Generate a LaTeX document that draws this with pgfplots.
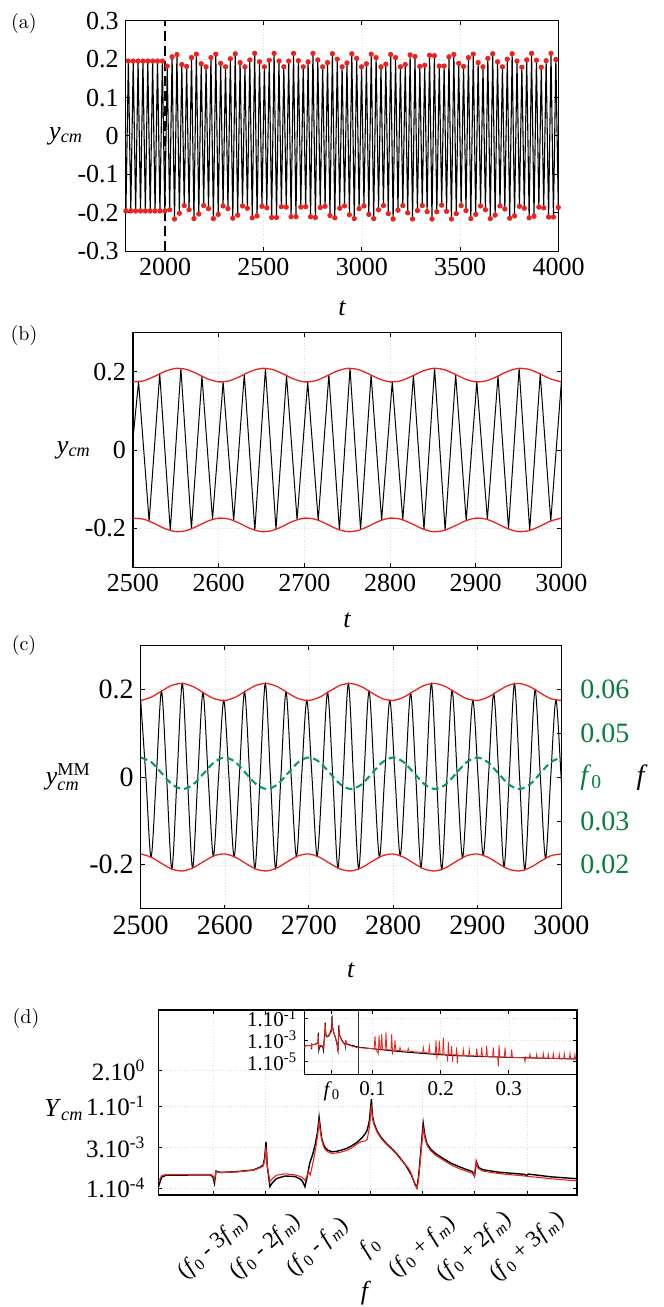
\documentclass[border=0pt]{standalone}
\usepackage{amsmath}
\usepackage{fontspec}
\usepackage{pgfplots}
\usepackage{pgfplotstable}
\pgfplotsset{compat=1.18}
\newfontfamily\tm{Liberation Serif}
\definecolor{mred}{RGB}{235,35,30}
\definecolor{fgreen}{RGB}{0,150,110}
\definecolor{lgreen}{RGB}{10,125,65}

\pgfplotsset{
  panel/.style={scale only axis, anchor=north west,
    axis line style={line width=0.6pt},
    grid=major, grid style={densely dotted, gray!28, line width=0.3pt},
    major tick length=2pt, tick style={black, line width=0.5pt},
    tick label style={font=\tm\fontsize{13}{15}\selectfont},
    label style={font=\tm\fontsize{13}{15}\selectfont},
    /pgf/number format/assume math mode=true,
    /pgf/number format/1000 sep={}, scaled ticks=false},
  ylab/.style={ylabel style={rotate=-90, at={(axis description cs:#1,0.5)}, anchor=center}},
  xlab/.style={xlabel style={at={(axis description cs:0.5,#1)}, anchor=center}}
}

% (a) peaks and troughs of y_cm, 1800 < t < 4000
\pgfplotstableread{
t y
1800.65 -0.195
1813.0 0.195
1825.35 -0.195
1837.7 0.195
1850.05 -0.195
1862.4 0.195
1874.75 -0.195
1887.1 0.195
1899.45 -0.195
1911.8 0.195
1924.15 -0.195
1936.5 0.195
1948.85 -0.195
1961.2 0.195
1973.55 -0.195
1985.9 0.195
1998.25 -0.195
2010.6 0.182
2022.95 -0.192
2035.3 0.206
2047.65 -0.216
2060.0 0.212
2072.35 -0.201
2084.7 0.186
2097.05 -0.181
2109.4 0.181
2121.75 -0.192
2134.1 0.204
2146.45 -0.215
2158.8 0.213
2171.15 -0.203
2183.5 0.188
2195.85 -0.181
2208.2 0.180
2220.55 -0.189
2232.9 0.204
2245.25 -0.215
2257.6 0.213
2269.95 -0.204
2282.3 0.189
2294.65 -0.182
2307.0 0.180
2319.35 -0.189
2331.7 0.201
2344.05 -0.214
2356.4 0.214
2368.75 -0.206
2381.1 0.191
2393.45 -0.182
2405.8 0.180
2418.15 -0.188
2430.5 0.198
2442.85 -0.213
2455.2 0.215
2467.55 -0.208
2479.9 0.193
2492.25 -0.183
2504.6 0.180
2516.95 -0.187
2529.3 0.197
2541.65 -0.212
2554.0 0.215
2566.35 -0.212
2578.7 0.195
2591.05 -0.184
2603.4 0.180
2615.75 -0.185
2628.1 0.195
2640.45 -0.210
2652.8 0.215
2665.15 -0.210
2677.5 0.196
2689.85 -0.185
2702.2 0.180
2714.55 -0.184
2726.9 0.193
2739.25 -0.210
2751.6 0.215
2763.95 -0.212
2776.3 0.198
2788.65 -0.186
2801.0 0.180
2813.35 -0.183
2825.7 0.191
2838.05 -0.207
2850.4 0.214
2862.75 -0.213
2875.1 0.200
2887.45 -0.188
2899.8 0.180
2912.15 -0.182
2924.5 0.190
2936.85 -0.205
2949.2 0.214
2961.55 -0.215
2973.9 0.202
2986.25 -0.189
2998.6 0.180
3010.95 -0.182
3023.3 0.188
3035.65 -0.204
3048.0 0.213
3060.35 -0.215
3072.7 0.204
3085.05 -0.192
3097.4 0.180
3109.75 -0.181
3122.1 0.187
3134.45 -0.202
3146.8 0.212
3159.15 -0.216
3171.5 0.204
3183.85 -0.193
3196.2 0.180
3208.55 -0.181
3220.9 0.186
3233.25 -0.200
3245.6 0.211
3257.95 -0.216
3270.3 0.207
3282.65 -0.194
3295.0 0.181
3307.35 -0.181
3319.7 0.184
3332.05 -0.197
3344.4 0.210
3356.75 -0.216
3369.1 0.209
3381.45 -0.197
3393.8 0.182
3406.15 -0.180
3418.5 0.182
3430.85 -0.196
3443.2 0.206
3455.55 -0.216
3467.9 0.212
3480.25 -0.202
3492.6 0.189
3504.95 -0.181
3517.3 0.181
3529.65 -0.194
3542.0 0.204
3554.35 -0.215
3566.7 0.213
3579.05 -0.204
3591.4 0.191
3603.75 -0.182
3616.1 0.180
3628.45 -0.192
3640.8 0.202
3653.15 -0.215
3665.5 0.214
3677.85 -0.206
3690.2 0.193
3702.55 -0.182
3714.9 0.180
3727.25 -0.190
3739.6 0.200
3751.95 -0.214
3764.3 0.214
3776.65 -0.208
3789.0 0.195
3801.35 -0.183
3813.7 0.179
3826.05 -0.188
3838.4 0.198
3850.75 -0.213
3863.1 0.215
3875.45 -0.209
3887.8 0.197
3900.15 -0.185
3912.5 0.179
3924.85 -0.187
3937.2 0.196
3949.55 -0.211
3961.9 0.215
3974.25 -0.211
3986.6 0.199
3998.95 -0.186
}\dataA

% (b) sampled signal
\pgfplotstableread{
t y
2500 0.03
2506.5 0.1744
2518.8 -0.1819
2531.2 0.1950
2543.5 -0.2060
2555.9 0.2087
2568.2 -0.2016
2580.5 0.1888
2592.8 -0.1775
2605.2 0.1742
2617.5 -0.1808
2629.9 0.1936
2642.2 -0.2051
2654.6 0.2089
2666.9 -0.2027
2679.2 0.1902
2691.5 -0.1784
2703.9 0.1740
2716.2 -0.1797
2728.6 0.1922
2740.9 -0.2042
2753.3 0.2090
2765.6 -0.2038
2777.9 0.1916
2790.2 -0.1794
2802.6 0.1740
2814.9 -0.1787
2827.3 0.1907
2839.6 -0.2032
2852.0 0.2090
2864.3 -0.2048
2876.6 0.1930
2888.9 -0.1804
2901.3 0.1741
2913.6 -0.1777
2926.0 0.1893
2938.3 -0.2021
2950.7 0.2088
2963.0 -0.2057
2975.3 0.1944
2987.6 -0.1816
3000.0 0.1743
}\dataB

% (b) envelope
\pgfplotstableread{
t up lo
2500 0.1743 -0.1743
2512.5 0.1770 -0.1770
2525 0.1882 -0.1882
2537.5 0.2013 -0.2013
2550 0.2087 -0.2087
2562.5 0.2060 -0.2060
2575 0.1948 -0.1948
2587.5 0.1817 -0.1817
2600 0.1743 -0.1743
2612.5 0.1770 -0.1770
2625 0.1882 -0.1882
2637.5 0.2013 -0.2013
2650 0.2087 -0.2087
2662.5 0.2060 -0.2060
2675 0.1948 -0.1948
2687.5 0.1817 -0.1817
2700 0.1743 -0.1743
2712.5 0.1770 -0.1770
2725 0.1882 -0.1882
2737.5 0.2013 -0.2013
2750 0.2087 -0.2087
2762.5 0.2060 -0.2060
2775 0.1948 -0.1948
2787.5 0.1817 -0.1817
2800 0.1743 -0.1743
2812.5 0.1770 -0.1770
2825 0.1882 -0.1882
2837.5 0.2013 -0.2013
2850 0.2087 -0.2087
2862.5 0.2060 -0.2060
2875 0.1948 -0.1948
2887.5 0.1817 -0.1817
2900 0.1743 -0.1743
2912.5 0.1770 -0.1770
2925 0.1882 -0.1882
2937.5 0.2013 -0.2013
2950 0.2087 -0.2087
2962.5 0.2060 -0.2060
2975 0.1948 -0.1948
2987.5 0.1817 -0.1817
3000 0.1743 -0.1743
}\envB

% (c) reconstructed signal
\pgfplotstableread{
t y
2500.0 0.1752
2506.2 0
2512.3 -0.1824
2518.5 0
2524.7 0.1965
2530.8 0
2537.0 -0.2095
2543.2 0
2549.4 0.2139
2555.5 0
2561.7 -0.2072
2567.9 0
2574.0 0.1933
2580.2 0
2586.4 -0.1800
2592.5 0
2598.7 0.1750
2604.9 0
2611.0 -0.1812
2617.2 0
2623.4 0.1950
2629.6 0
2635.7 -0.2085
2641.9 0
2648.1 0.2140
2654.2 0
2660.4 -0.2084
2666.6 0
2672.7 0.1948
2678.9 0
2685.1 -0.1811
2691.2 0
2697.4 0.1750
2703.6 0
2709.7 -0.1801
2715.9 0
2722.1 0.1934
2728.3 0
2734.4 -0.2073
2740.6 0
2746.8 0.2139
2752.9 0
2759.1 -0.2095
2765.3 0
2771.4 0.1964
2777.6 0
2783.8 -0.1823
2789.9 0
2796.1 0.1751
2802.3 0
2808.4 -0.1790
2814.6 0
2820.8 0.1918
2827.0 0
2833.1 -0.2061
2839.3 0
2845.5 0.2137
2851.6 0
2857.8 -0.2104
2864.0 0
2870.1 0.1980
2876.3 0
2882.5 -0.1836
2888.6 0
2894.8 0.1754
2901.0 0
2907.1 -0.1781
2913.3 0
2919.5 0.1902
2925.7 0
2931.8 -0.2048
2938.0 0
2944.2 0.2134
2950.3 0
2956.5 -0.2113
2962.7 0
2968.8 0.1996
2975.0 0
2981.2 -0.1849
2987.3 0
2993.5 0.1758
2999.7 0
3005.8 -0.1800
}\dataC

% (c) envelope and instantaneous frequency
\pgfplotstableread{
t up lo f
2500 0.1752 -0.1752 0.0445
2512.5 0.1825 -0.1825 0.04345
2525 0.1969 -0.1969 0.0409
2537.5 0.2099 -0.2099 0.03835
2550 0.2138 -0.2138 0.0373
2562.5 0.2065 -0.2065 0.03835
2575 0.1921 -0.1921 0.0409
2587.5 0.1791 -0.1791 0.04345
2600 0.1752 -0.1752 0.0445
2612.5 0.1825 -0.1825 0.04345
2625 0.1969 -0.1969 0.0409
2637.5 0.2099 -0.2099 0.03835
2650 0.2138 -0.2138 0.0373
2662.5 0.2065 -0.2065 0.03835
2675 0.1921 -0.1921 0.0409
2687.5 0.1791 -0.1791 0.04345
2700 0.1752 -0.1752 0.0445
2712.5 0.1825 -0.1825 0.04345
2725 0.1969 -0.1969 0.0409
2737.5 0.2099 -0.2099 0.03835
2750 0.2138 -0.2138 0.0373
2762.5 0.2065 -0.2065 0.03835
2775 0.1921 -0.1921 0.0409
2787.5 0.1791 -0.1791 0.04345
2800 0.1752 -0.1752 0.0445
2812.5 0.1825 -0.1825 0.04345
2825 0.1969 -0.1969 0.0409
2837.5 0.2099 -0.2099 0.03835
2850 0.2138 -0.2138 0.0373
2862.5 0.2065 -0.2065 0.03835
2875 0.1921 -0.1921 0.0409
2887.5 0.1791 -0.1791 0.04345
2900 0.1752 -0.1752 0.0445
2912.5 0.1825 -0.1825 0.04345
2925 0.1969 -0.1969 0.0409
2937.5 0.2099 -0.2099 0.03835
2950 0.2138 -0.2138 0.0373
2962.5 0.2065 -0.2065 0.03835
2975 0.1921 -0.1921 0.0409
2987.5 0.1791 -0.1791 0.04345
3000 0.1752 -0.1752 0.0445
}\envC

% (d) spectra, log10 of amplitude
\pgfplotstableread{
f ly
0.0000 -3.95
0.0006 -3.60
0.0015 -3.53
0.0100 -3.52
0.0104 -3.60
0.0107 -3.83
0.0110 -3.38
0.0118 -3.43
0.0150 -3.40
0.0181 -3.34
0.0194 -3.24
0.0200 -3.16
0.0203 -2.90
0.02055 -2.31
0.0208 -3.20
0.0213 -3.95
0.0218 -3.80
0.0226 -3.65
0.0242 -3.56
0.0261 -3.58
0.0270 -3.66
0.0275 -3.75
0.0280 -3.95
0.0284 -3.60
0.0289 -3.10
0.0295 -2.75
0.0300 -2.37
0.0304 -1.95
0.0307 -1.41
0.0310 -1.90
0.0312 -2.18
0.0315 -2.38
0.0318 -2.51
0.0324 -2.62
0.0331 -2.67
0.0340 -2.66
0.0350 -2.61
0.0360 -2.55
0.0369 -2.46
0.0380 -2.32
0.0388 -2.18
0.0395 -2.02
0.0399 -1.88
0.0403 -1.55
0.0407 -0.75
0.0409 -1.35
0.0412 -1.63
0.0418 -1.92
0.0426 -2.16
0.0436 -2.38
0.0446 -2.56
0.0456 -2.76
0.0465 -2.98
0.0472 -3.15
0.0478 -3.34
0.0483 -3.50
0.0487 -3.71
0.0491 -3.88
0.0494 -3.98
0.0497 -3.60
0.0500 -2.98
0.0503 -2.30
0.0506 -1.63
0.0509 -2.05
0.0513 -2.37
0.0520 -2.57
0.0529 -2.73
0.0545 -2.93
0.0560 -3.10
0.0576 -3.23
0.0590 -3.33
0.0600 -3.40
0.0604 -3.56
0.0608 -3.05
0.0612 -3.25
0.0620 -3.33
0.0650 -3.42
0.0700 -3.50
0.0704 -3.55
0.0707 -3.49
0.0750 -3.59
0.0800 -3.66
}\specK

\pgfplotstableread{
f ly
0.0000 -3.75
0.0006 -3.55
0.0015 -3.50
0.0100 -3.50
0.0105 -3.58
0.0107 -3.72
0.0110 -3.40
0.0118 -3.43
0.0150 -3.41
0.0181 -3.35
0.0194 -3.26
0.0200 -3.20
0.0203 -3.00
0.02055 -2.51
0.0208 -3.20
0.0213 -3.77
0.0218 -3.65
0.0226 -3.53
0.0242 -3.48
0.0261 -3.52
0.0270 -3.57
0.0275 -3.62
0.0280 -3.73
0.0284 -3.55
0.0287 -3.40
0.0290 -3.52
0.0295 -3.10
0.0300 -2.60
0.0304 -2.10
0.0307 -1.57
0.0310 -2.00
0.0312 -2.24
0.0315 -2.45
0.0318 -2.58
0.0324 -2.68
0.0331 -2.73
0.0340 -2.72
0.0350 -2.68
0.0360 -2.62
0.0369 -2.54
0.0380 -2.38
0.0388 -2.30
0.0395 -2.28
0.0399 -2.22
0.0403 -1.80
0.0407 -0.96
0.0409 -1.45
0.0412 -1.69
0.0418 -1.96
0.0426 -2.20
0.0436 -2.41
0.0446 -2.58
0.0456 -2.79
0.0465 -3.00
0.0472 -3.14
0.0478 -3.28
0.0483 -3.45
0.0487 -3.70
0.0491 -3.92
0.0494 -4.02
0.0497 -3.70
0.0500 -3.10
0.0503 -2.45
0.0506 -1.82
0.0509 -2.15
0.0513 -2.43
0.0520 -2.63
0.0529 -2.79
0.0545 -2.99
0.0560 -3.16
0.0576 -3.30
0.0590 -3.39
0.0600 -3.46
0.0604 -3.55
0.0607 -3.01
0.0611 -3.28
0.0620 -3.38
0.0650 -3.47
0.0700 -3.56
0.0750 -3.66
0.0800 -3.74
}\specR

% inset tails beyond f = 0.08
\pgfplotstableread{
f ly
0.080 -3.66
0.094 -3.76
0.143 -4.08
0.192 -4.32
0.228 -4.45
0.302 -4.60
0.400 -4.75
}\tailK

\pgfplotstableread{
f ly
0.080 -3.70
0.095 -3.78
0.1025 -3.80
0.1037 -2.62
0.1050 -3.82
0.1085 -4.30
0.1096 -2.55
0.1110 -3.84
0.1125 -3.86
0.1135 -2.45
0.1148 -3.87
0.1187 -3.88
0.1198 -2.23
0.1210 -3.90
0.1272 -3.92
0.1282 -2.45
0.1295 -4.20
0.1305 -3.93
0.1320 -3.94
0.1330 -3.00
0.1342 -3.95
0.1394 -3.97
0.1404 -3.67
0.1416 -3.98
0.1515 -4.03
0.1525 -3.77
0.1537 -4.04
0.1736 -4.14
0.1746 -3.67
0.1758 -4.15
0.1824 -4.20
0.1834 -3.54
0.1846 -4.21
0.1922 -4.24
0.1932 -3.00
0.1945 -4.60
0.1955 -4.25
0.1970 -4.26
0.1980 -3.06
0.1992 -4.27
0.2029 -4.30
0.2039 -2.75
0.2051 -4.30
0.2095 -4.33
0.2103 -5.00
0.2112 -3.15
0.2124 -4.34
0.2152 -4.35
0.2162 -3.55
0.2172 -5.00
0.2182 -4.36
0.2225 -4.38
0.2235 -3.67
0.2245 -5.15
0.2255 -4.39
0.2322 -4.41
0.2332 -3.86
0.2344 -4.42
0.2410 -4.44
0.2420 -3.86
0.2432 -4.45
0.2519 -4.47
0.2529 -3.77
0.2541 -4.48
0.2592 -4.49
0.2602 -3.67
0.2614 -4.50
0.2665 -4.51
0.2675 -3.55
0.2687 -4.52
0.2762 -4.53
0.2772 -3.67
0.2784 -4.54
0.2836 -4.55
0.2846 -5.46
0.2856 -3.46
0.2868 -4.56
0.2934 -4.57
0.2944 -3.67
0.2956 -4.58
0.3032 -4.60
0.3042 -3.86
0.3054 -4.60
0.3227 -4.63
0.3237 -5.00
0.3249 -4.54
0.3260 -4.64
0.3300 -4.64
0.3310 -4.29
0.3320 -4.65
0.3399 -4.66
0.3409 -4.29
0.3419 -4.66
0.3496 -4.68
0.3506 -4.23
0.3516 -4.68
0.3569 -4.69
0.3579 -4.29
0.3589 -4.69
0.3642 -4.70
0.3652 -4.23
0.3662 -4.70
0.3730 -4.71
0.3740 -4.29
0.3750 -4.72
0.3804 -4.72
0.3814 -4.23
0.3824 -4.73
0.3887 -4.73
0.3897 -4.23
0.3907 -4.74
0.3960 -4.74
0.3970 -4.32
0.3980 -4.75
0.4000 -4.75
}\tailR

\begin{document}
\begin{tikzpicture}
\useasboundingbox (0,0) rectangle (332pt,-653.5pt);

% ---------- (a)
\begin{axis}[panel, at={(62.9pt,-10.35pt)}, width=216.35pt, height=115.3pt,
  xmin=1800, xmax=4000, ymin=-0.3, ymax=0.3,
  xtick={2000,2500,3000,3500,4000}, ytick={-0.3,-0.2,-0.1,0,0.1,0.2,0.3},
  yticklabels={-0.3,-0.2,-0.1,0,0.1,0.2,0.3},
  xlabel={\textit{t}}, xlab=-0.246,
  ylabel={\textit{y}\textsubscript{\textit{cm}}}, ylab=-0.138]
\addplot[black, line width=0.55pt] table[x=t,y=y]{\dataA};
\addplot[only marks, mark=*, mark size=1.1pt, mark options={draw=mred, fill=mred}] table[x=t,y=y]{\dataA};
\addplot[black, line width=0.9pt, dash pattern=on 5pt off 2.5pt] coordinates {(2000,-0.3) (2000,0.3)};
\end{axis}
\node[font=\fontsize{10}{12}\selectfont] at (12pt,-11.75pt) {(a)};

% ---------- (b)
\begin{axis}[panel, at={(66.5pt,-166.35pt)}, width=214.2pt, height=117.3pt,
  xmin=2500, xmax=3000, ymin=-0.3, ymax=0.3,
  xtick={2500,2600,2700,2800,2900,3000}, ytick={-0.2,0,0.2},
  yticklabels={-0.2,0,0.2},
  xlabel={\textit{t}}, xlab=-0.225,
  ylabel={\textit{y}\textsubscript{\textit{cm}}}, ylab=-0.138]
\addplot[black, line width=0.5pt] table[x=t,y=y]{\dataB};
\addplot[mred, line width=0.65pt, smooth] table[x=t,y=up]{\envB};
\addplot[mred, line width=0.65pt, smooth] table[x=t,y=lo]{\envB};
\end{axis}
\node[font=\fontsize{10}{12}\selectfont] at (12pt,-167.5pt) {(b)};

% ---------- (c)
\begin{axis}[panel, at={(70.35pt,-322.85pt)}, width=210.35pt, height=131.5pt,
  xmin=2500, xmax=3000, ymin=-0.3, ymax=0.3,
  xtick={2500,2600,2700,2800,2900,3000}, ytick={-0.2,0,0.2},
  yticklabels={-0.2,0,0.2}, ytick pos=left,
  tick label style={font=\tm\fontsize{14}{16}\selectfont},
  xlabel={\textit{t}}, xlab=-0.233,
  ylabel={$\textit{y}^{\text{MM}}_{\textit{cm}}$}, ylab=-0.172]
\addplot[black, line width=0.5pt, smooth] table[x=t,y=y]{\dataC};
\addplot[mred, line width=0.65pt, smooth] table[x=t,y=up]{\envC};
\addplot[mred, line width=0.65pt, smooth] table[x=t,y=lo]{\envC};
\end{axis}
\begin{axis}[scale only axis, anchor=north west, at={(70.35pt,-322.85pt)},
  width=210.35pt, height=131.5pt,
  xmin=2500, xmax=3000, ymin=0.01, ymax=0.07, scaled ticks=false,
  axis x line=none, axis y line*=right, axis line style={line width=0.6pt},
  major tick length=2pt, tick style={black, line width=0.5pt}, tick align=inside,
  ytick={0.02,0.03,0.04,0.05,0.06},
  yticklabels={0.02,0.03,\textit{f}\textsubscript{0},0.05,0.06},
  yticklabel style={font=\tm\fontsize{14}{16}\selectfont, text=lgreen, anchor=west, xshift=6pt},
  ylabel={\textit{f}}, ylabel style={font=\tm\fontsize{14}{16}\selectfont, rotate=-90, at={(axis description cs:1.192,0.5)}, anchor=center}]
\addplot[fgreen, line width=1pt, dash pattern=on 3.5pt off 2pt, smooth] table[x=t,y=f]{\envC};
\end{axis}
\node[font=\fontsize{10}{12}\selectfont] at (12pt,-322.5pt) {(c)};

% ---------- (d)
\begin{axis}[panel, at={(79.25pt,-505pt)}, width=209.25pt, height=92.5pt,
  xmin=0, xmax=0.08, ymin=-4.256, ymax=2.513,
  xtick={0.0105,0.0205,0.0305,0.0405,0.0505,0.0605,0.0705},
  xticklabels={%
    {(\textit{f}\textsubscript{0} - 3\textit{f}\textsubscript{\textit{m}})},
    {(\textit{f}\textsubscript{0} - 2\textit{f}\textsubscript{\textit{m}})},
    {(\textit{f}\textsubscript{0} - \textit{f}\textsubscript{\textit{m}})},
    {\textit{f}\textsubscript{0}},
    {(\textit{f}\textsubscript{0} + \textit{f}\textsubscript{\textit{m}})},
    {(\textit{f}\textsubscript{0} + 2\textit{f}\textsubscript{\textit{m}})},
    {(\textit{f}\textsubscript{0} + 3\textit{f}\textsubscript{\textit{m}})}},
  xticklabel style={yshift=-26pt, rotate=42, anchor=center, font=\tm\fontsize{11.5}{13}\selectfont},
  ytick={-4,-2.523,-1,0.301},
  yticklabels={1.10\textsuperscript{-4},3.10\textsuperscript{-3},1.10\textsuperscript{-1},2.10\textsuperscript{0}},
  yticklabel style={font=\tm\fontsize{12.5}{14}\selectfont, xshift=-3pt},
  xlabel={\textit{f}}, xlabel style={at={(axis description cs:0.496,-0.53)}, anchor=center},
  ylabel={\textit{Y}\textsubscript{\textit{cm}}},
  ylabel style={rotate=-90, at={(axis description cs:-0.226,0.459)}, anchor=center}]
\addplot[black, line width=0.7pt] table[x=f,y=ly]{\specK};
\addplot[mred, line width=0.55pt] table[x=f,y=ly]{\specR};
\end{axis}
\begin{axis}[panel, at={(152.15pt,-505pt)}, width=136.35pt, height=32.15pt,
  axis background/.style={fill=white},
  xmin=0, xmax=0.4, ymin=-6.16, ymax=-0.235,
  xtick={0.0405,0.1,0.2,0.3},
  xticklabels={\textit{f}\textsubscript{0},0.1,0.2,0.3},
  ytick={-5,-3,-1},
  yticklabels={1.10\textsuperscript{-5},1.10\textsuperscript{-3},1.10\textsuperscript{-1}},
  tick label style={font=\tm\fontsize{10.5}{12}\selectfont}]
\addplot[black, line width=0.5pt] table[x=f,y=ly]{\specK};
\addplot[black, line width=0.5pt, smooth] table[x=f,y=ly]{\tailK};
\addplot[mred, line width=0.4pt] table[x=f,y=ly]{\specR};
\addplot[mred, line width=0.4pt] table[x=f,y=ly]{\tailR};
\addplot[black!80, line width=0.6pt] coordinates {(0.08,-6.16) (0.08,-0.235)};
\end{axis}
\node[font=\fontsize{10}{12}\selectfont] at (13pt,-509pt) {(d)};
\end{tikzpicture}
\end{document}
